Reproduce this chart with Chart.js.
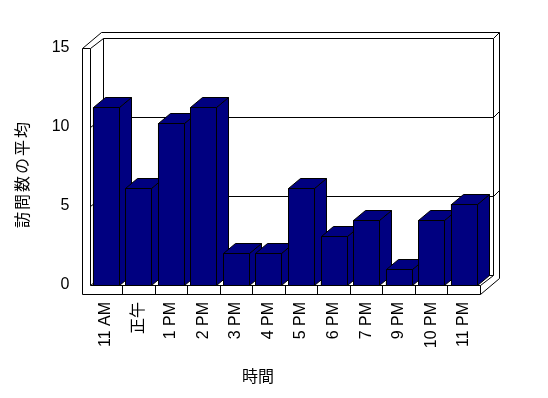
<!DOCTYPE html>
<html>
<head>
<meta charset="utf-8">
<script src="https://cdn.jsdelivr.net/npm/chart.js@4"></script>
<style>
html, body { margin: 0; padding: 0; background: #fff; }
</style>
</head>
<body>
<canvas id="visitChart" width="548" height="398"></canvas>
<script>
// chart data
const hours = ['11 AM', '正午', '1 PM', '2 PM', '3 PM', '4 PM', '5 PM', '6 PM', '7 PM', '9 PM', '10 PM', '11 PM'];
const avgVisits = [11.25, 6.125, 10.25, 11.25, 2, 2, 6.125, 3.1, 4.125, 1, 4.125, 5.125];
const yStep = 5;
const yMax = 15;
const xTitle = '時間';
const yTitle = '訪問数の平均';

// 3D look
const DX = 13, DY = -10;   // inner depth of the box
const OX = 19, OY = -16;   // outer depth (wall thickness)
const BX = 12, BY = -10;   // depth of each bar
const barColor = '#000080';
const fontFamily = '"Liberation Sans", Arial, "Noto Sans CJK JP", sans-serif';

const px = v => Math.round(v) + 0.5;

function poly(ctx, pts, fill) {
  ctx.beginPath();
  pts.forEach((p, i) => {
    if (i === 0) ctx.moveTo(px(p[0]), px(p[1]));
    else ctx.lineTo(px(p[0]), px(p[1]));
  });
  ctx.closePath();
  if (fill) {
    ctx.fillStyle = fill;
    ctx.fill();
  }
  ctx.stroke();
}

function line(ctx, x1, y1, x2, y2) {
  ctx.beginPath();
  ctx.moveTo(px(x1), px(y1));
  ctx.lineTo(px(x2), px(y2));
  ctx.stroke();
}

const box3d = {
  id: 'box3d',
  beforeDatasetsDraw(chart) {
    const ctx = chart.ctx;
    const a = chart.chartArea;
    const L = a.left, R = a.right, T = a.top, B = a.bottom;
    const wallL = L - 7.5;
    const floorB = B + 9;
    ctx.save();
    ctx.strokeStyle = '#000';
    ctx.lineWidth = 1;

    // back wall outer edge
    line(ctx, wallL, T, wallL + OX, T + OY);
    line(ctx, wallL + OX, T + OY, R + OX, T + OY);
    line(ctx, R + OX, T + OY, R + OX, floorB + OY);
    // back wall inner face
    line(ctx, L, T, L + DX, T + DY);
    line(ctx, L + DX, T + DY, R + DX, T + DY);
    line(ctx, R + DX, T + DY, R + DX, B + DY);
    line(ctx, L + DX, T + DY, L + DX, B + DY);
    line(ctx, R + DX, T + DY, R + OX, T + OY);

    // gridlines on the walls
    const ys = chart.scales.y;
    for (let v = yStep; v < yMax; v += yStep) {
      const y = ys.getPixelForValue(v);
      line(ctx, wallL, y, L, y);
      line(ctx, L, y, L + DX, y + DY);
      line(ctx, L + DX, y + DY, R + DX, y + DY);
      line(ctx, R + DX, y + DY, R + OX, y + OY);
    }

    // floor
    poly(ctx, [[L, B], [R, B], [R + DX, B + DY], [L + DX, B + DY]], '#fff');
    line(ctx, R, floorB, R + OX, floorB + OY);
    // left wall + floor front faces
    poly(ctx, [[wallL, T], [L, T], [L, B], [R, B], [R, floorB], [wallL, floorB]], '#fff');

    // category dividers on the floor front
    const xs = chart.scales.x;
    for (let i = 1; i < hours.length; i++) {
      const x = (xs.getPixelForTick(i - 1) + xs.getPixelForTick(i)) / 2;
      line(ctx, x, B, x, floorB);
    }
    ctx.restore();
  },
  afterDatasetsDraw(chart) {
    const ctx = chart.ctx;
    const meta = chart.getDatasetMeta(0);
    ctx.save();
    ctx.strokeStyle = '#000';
    ctx.lineWidth = 1;
    meta.data.forEach(bar => {
      const p = bar.getProps(['x', 'y', 'base', 'width'], true);
      const l = p.x - p.width / 2, r = p.x + p.width / 2;
      const t = p.y, b = p.base;
      poly(ctx, [[r, t], [r + BX, t + BY], [r + BX, b + BY], [r, b]], barColor);
      poly(ctx, [[l, t], [l + BX, t + BY], [r + BX, t + BY], [r, t]], barColor);
      poly(ctx, [[l, t], [r, t], [r, b], [l, b]], barColor);
    });
    ctx.restore();
  },
  afterDraw(chart) {
    // axis titles, placed like the original
    const ctx = chart.ctx;
    ctx.save();
    ctx.fillStyle = '#000';
    ctx.font = '16px ' + fontFamily;
    ctx.textAlign = 'center';
    ctx.textBaseline = 'middle';
    ctx.fillText(xTitle, 258, 378);
    ctx.translate(24, 174);
    ctx.rotate(-Math.PI / 2);
    ctx.letterSpacing = '2px';
    ctx.fillText(yTitle, 0, 0);
    ctx.restore();
  }
};

const tickFont = { family: fontFamily, size: 16 };

new Chart(document.getElementById('visitChart'), {
  type: 'bar',
  data: {
    labels: hours,
    datasets: [{
      label: yTitle,
      data: avgVisits,
      backgroundColor: barColor,
      borderColor: '#000',
      borderWidth: 1,
      barPercentage: 0.8,
      categoryPercentage: 1
    }]
  },
  options: {
    responsive: false,
    animation: false,
    events: [],
    layout: { padding: { top: 48, right: 68, left: 0, bottom: 0 } },
    plugins: {
      legend: { display: false },
      tooltip: { enabled: false }
    },
    scales: {
      x: {
        grid: { display: false, drawTicks: false },
        border: { display: false },
        ticks: { minRotation: 90, maxRotation: 90, padding: 17, color: '#000', font: tickFont },
        afterFit(s) { s.height = 113; }
      },
      y: {
        min: 0,
        max: yMax,
        grid: { display: false, drawTicks: false },
        border: { display: false },
        ticks: { stepSize: yStep, padding: 20, color: '#000', font: tickFont },
        afterFit(s) { s.width = 89.5; }
      }
    }
  },
  plugins: [box3d]
});
</script>
</body>
</html>
